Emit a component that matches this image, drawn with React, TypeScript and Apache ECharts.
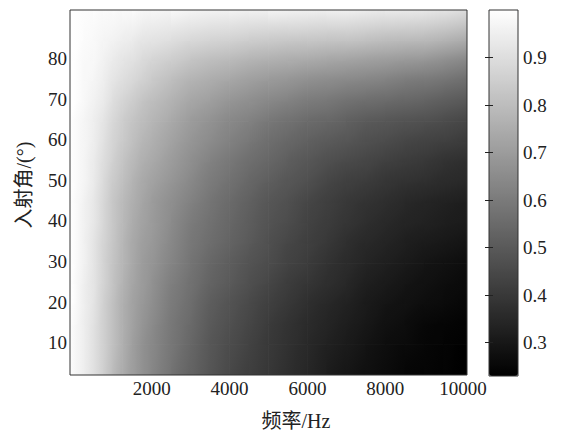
import React, { useEffect, useRef } from "react";
import * as echarts from "echarts";

// frequency (Hz) grid nodes and incidence angle (deg) grid nodes
const freqs = [0, 250, 500, 750, 1000, 1250, 1500, 1750, 2000, 2500, 3000, 3500, 4000, 4500, 5000, 5500, 6000, 6500, 7000, 7500, 8000, 8500, 9000, 9500, 10000];
const angles = [4.5, 9.5, 14.5, 19.5, 24.5, 29.5, 34.5, 39.5, 44.5, 49.5, 54.5, 59.5, 64.5, 69.5, 74.5, 79.5, 84.5, 89.5];

// values per angle row
const r04 = [0.98, 0.95, 0.91, 0.86, 0.80, 0.75, 0.71, 0.67, 0.64, 0.58, 0.53, 0.49, 0.45, 0.42, 0.40, 0.37, 0.35, 0.32, 0.30, 0.28, 0.27, 0.25, 0.245, 0.24, 0.23];
const r09 = [0.98, 0.95, 0.91, 0.86, 0.81, 0.76, 0.71, 0.67, 0.64, 0.59, 0.54, 0.49, 0.46, 0.43, 0.40, 0.38, 0.35, 0.33, 0.31, 0.29, 0.27, 0.26, 0.25, 0.24, 0.233];
const r14 = [0.98, 0.95, 0.91, 0.86, 0.81, 0.76, 0.72, 0.68, 0.65, 0.59, 0.55, 0.50, 0.47, 0.44, 0.41, 0.38, 0.36, 0.34, 0.32, 0.30, 0.28, 0.27, 0.25, 0.245, 0.24];
const r19 = [0.99, 0.95, 0.92, 0.86, 0.81, 0.76, 0.72, 0.69, 0.66, 0.60, 0.56, 0.51, 0.48, 0.45, 0.42, 0.40, 0.37, 0.35, 0.33, 0.31, 0.29, 0.28, 0.27, 0.26, 0.25];
const r24 = [0.99, 0.95, 0.92, 0.87, 0.82, 0.77, 0.73, 0.70, 0.67, 0.61, 0.57, 0.53, 0.50, 0.47, 0.44, 0.41, 0.39, 0.37, 0.35, 0.32, 0.31, 0.29, 0.28, 0.27, 0.26];
const r29 = [0.99, 0.96, 0.92, 0.87, 0.82, 0.78, 0.74, 0.70, 0.68, 0.63, 0.58, 0.54, 0.51, 0.48, 0.46, 0.43, 0.41, 0.38, 0.36, 0.34, 0.32, 0.31, 0.29, 0.28, 0.27];
const r34 = [0.99, 0.96, 0.92, 0.87, 0.83, 0.78, 0.74, 0.71, 0.69, 0.64, 0.59, 0.56, 0.53, 0.50, 0.47, 0.44, 0.42, 0.40, 0.37, 0.35, 0.34, 0.32, 0.31, 0.30, 0.29];
const r39 = [0.99, 0.96, 0.93, 0.88, 0.83, 0.79, 0.75, 0.72, 0.70, 0.65, 0.60, 0.57, 0.54, 0.51, 0.48, 0.46, 0.43, 0.41, 0.39, 0.37, 0.35, 0.34, 0.33, 0.32, 0.31];
const r44 = [0.99, 0.96, 0.93, 0.88, 0.83, 0.79, 0.76, 0.73, 0.70, 0.66, 0.62, 0.58, 0.55, 0.52, 0.49, 0.47, 0.44, 0.42, 0.40, 0.38, 0.37, 0.35, 0.34, 0.33, 0.32];
const r49 = [0.99, 0.97, 0.94, 0.89, 0.84, 0.81, 0.77, 0.74, 0.72, 0.68, 0.64, 0.60, 0.57, 0.54, 0.51, 0.49, 0.47, 0.44, 0.42, 0.41, 0.39, 0.38, 0.37, 0.36, 0.35];
const r54 = [0.99, 0.97, 0.94, 0.90, 0.86, 0.82, 0.79, 0.76, 0.74, 0.70, 0.66, 0.62, 0.59, 0.56, 0.54, 0.51, 0.49, 0.47, 0.45, 0.44, 0.42, 0.41, 0.40, 0.38, 0.37];
const r59 = [0.99, 0.97, 0.95, 0.91, 0.87, 0.84, 0.81, 0.78, 0.76, 0.72, 0.68, 0.65, 0.62, 0.59, 0.56, 0.54, 0.52, 0.50, 0.49, 0.47, 0.46, 0.44, 0.43, 0.42, 0.41];
const r64 = [0.99, 0.97, 0.95, 0.92, 0.88, 0.85, 0.82, 0.80, 0.78, 0.74, 0.70, 0.67, 0.64, 0.62, 0.59, 0.57, 0.55, 0.54, 0.52, 0.50, 0.49, 0.48, 0.47, 0.46, 0.44];
const r69 = [1.0, 0.98, 0.96, 0.94, 0.90, 0.87, 0.85, 0.82, 0.80, 0.77, 0.73, 0.71, 0.68, 0.66, 0.64, 0.62, 0.60, 0.59, 0.57, 0.56, 0.55, 0.54, 0.53, 0.51, 0.50];
const r74 = [1.0, 0.98, 0.97, 0.95, 0.92, 0.90, 0.88, 0.86, 0.84, 0.80, 0.77, 0.75, 0.73, 0.71, 0.69, 0.68, 0.66, 0.65, 0.64, 0.63, 0.62, 0.60, 0.59, 0.58, 0.56];
const r79 = [1.0, 0.98, 0.98, 0.96, 0.94, 0.92, 0.91, 0.89, 0.87, 0.85, 0.82, 0.80, 0.79, 0.77, 0.76, 0.75, 0.74, 0.73, 0.72, 0.71, 0.70, 0.69, 0.68, 0.66, 0.64];
const r84 = [1.0, 0.99, 0.98, 0.97, 0.96, 0.95, 0.94, 0.92, 0.92, 0.90, 0.88, 0.87, 0.86, 0.85, 0.84, 0.83, 0.83, 0.82, 0.82, 0.81, 0.80, 0.79, 0.79, 0.77, 0.75];
const r89 = [1.0, 0.99, 0.99, 0.98, 0.98, 0.97, 0.97, 0.96, 0.95, 0.95, 0.94, 0.93, 0.93, 0.92, 0.92, 0.92, 0.91, 0.91, 0.91, 0.90, 0.89, 0.89, 0.88, 0.87, 0.85];
const rows = [r04, r09, r14, r19, r24, r29, r34, r39, r44, r49, r54, r59, r64, r69, r74, r79, r84, r89];

const xTicks = [2000, 4000, 6000, 8000, 10000];
const yTicks = [10, 20, 30, 40, 50, 60, 70, 80];
const cbTicks = [0.3, 0.4, 0.5, 0.6, 0.7, 0.8, 0.9];
const vMin = 0.23;
const vMax = 1.0;
const X_MIN = -100;
const X_MAX = 10100;
const Y_MIN = 2;
const Y_MAX = 92;

const SERIF = "Liberation Serif, Noto Sans CJK SC, serif";
const TXT = "#222";

function gray(v: number): string {
  const t = Math.max(0, Math.min(1, (v - vMin) / (vMax - vMin)));
  const g = Math.round(t * 255);
  return `rgb(${g},${g},${g})`;
}

export default function App() {
  const ref = useRef<HTMLDivElement>(null);
  useEffect(() => {
    if (!ref.current) return;
    const chart = echarts.init(ref.current, undefined, { renderer: "svg" });
    const nf = freqs.length;
    const na = angles.length;
    const data: number[][] = [];
    for (let j = 0; j < na - 1; j++) {
      for (let i = 0; i < nf - 1; i++) {
        const m = (rows[j][i] + rows[j][i + 1] + rows[j + 1][i] + rows[j + 1][i + 1]) / 4;
        data.push([(freqs[i] + freqs[i + 1]) / 2, (angles[j] + angles[j + 1]) / 2, m, i, j]);
      }
    }
    const renderItem = (params: any, api: any) => {
      const i = api.value(3);
      const j = api.value(4);
      const xl = i === 0 ? X_MIN : freqs[i];
      const xr = i === nf - 2 ? X_MAX : freqs[i + 1];
      const yb = j === 0 ? Y_MIN : angles[j];
      const yt = j === na - 2 ? Y_MAX : angles[j + 1];
      const n00 = api.coord([freqs[i], angles[j]]);
      const n11 = api.coord([freqs[i + 1], angles[j + 1]]);
      const W = n11[0] - n00[0];
      const H = n00[1] - n11[1];
      const a = rows[j][i], b = rows[j][i + 1], c = rows[j + 1][i], d = rows[j + 1][i + 1];
      const m = (a + b + c + d) / 4;
      const gx = (b - a + (d - c)) / 2;
      const gy = (c - a + (d - b)) / 2;
      const cx = (n00[0] + n11[0]) / 2;
      const cy = (n00[1] + n11[1]) / 2;
      const dvx = gx / W;
      const dvy = -gy / H;
      const r0 = api.coord([xl, yt]);
      const r1 = api.coord([xr, yb]);
      const rect = { x: r0[0] - 0.35, y: r0[1] - 0.35, width: r1[0] - r0[0] + 0.7, height: r1[1] - r0[1] + 0.7 };
      const L = Math.hypot(dvx, dvy);
      let fill: any;
      if (L < 1e-9) {
        fill = gray(m);
      } else {
        const ux = dvx / L, uy = dvy / L;
        const cs = [[rect.x, rect.y], [rect.x + rect.width, rect.y], [rect.x, rect.y + rect.height], [rect.x + rect.width, rect.y + rect.height]];
        let pmin = Infinity, pmax = -Infinity;
        cs.forEach(([px, py]) => {
          const p = (px - cx) * ux + (py - cy) * uy;
          if (p < pmin) pmin = p;
          if (p > pmax) pmax = p;
        });
        const stops = [0, 0.25, 0.5, 0.75, 1].map((o) => ({ offset: o, color: gray(m + L * (pmin + (pmax - pmin) * o)) }));
        fill = {
          type: "linear", global: true,
          x: cx + pmin * ux, y: cy + pmin * uy, x2: cx + pmax * ux, y2: cy + pmax * uy,
          colorStops: stops,
        };
      }
      return { type: "rect", shape: rect, style: { fill } };
    };
    chart.setOption({
      animation: false,
      grid: [
        { left: 70, top: 10, width: 397, height: 365, show: true, borderColor: "#333", borderWidth: 1, backgroundColor: "transparent", z: 10 },
        { left: 489, top: 10, width: 29, height: 366, show: true, borderColor: "#333", borderWidth: 1, backgroundColor: "transparent", z: 10 },
      ],
      xAxis: [
        {
          type: "value", gridIndex: 0, min: X_MIN, max: X_MAX,
          axisLine: { show: false }, splitLine: { show: false },
          axisTick: { show: false },
          axisLabel: { customValues: xTicks, formatter: (v: number) => String(v), color: TXT, fontFamily: SERIF, fontSize: 19, margin: 4 },
        },
        { type: "value", gridIndex: 1, show: false, min: 0, max: 1 },
      ],
      yAxis: [
        {
          type: "value", gridIndex: 0, min: Y_MIN, max: Y_MAX,
          axisLine: { show: false }, splitLine: { show: false },
          axisTick: { show: false },
          axisLabel: { customValues: yTicks, formatter: (v: number) => String(v), color: TXT, fontFamily: SERIF, fontSize: 19, margin: 3 },
        },
        {
          type: "value", gridIndex: 1, min: vMin, max: vMax, position: "right", z: 10,
          axisLine: { show: false }, splitLine: { show: false },
          axisTick: { show: true, inside: true, length: 4, customValues: cbTicks, lineStyle: { color: "#222" } },
          axisLabel: { customValues: cbTicks, formatter: (v: number) => v.toFixed(1), color: TXT, fontFamily: SERIF, fontSize: 19, margin: 5 },
        },
        {
          type: "value", gridIndex: 1, min: vMin, max: vMax, position: "left", z: 10,
          axisLine: { show: false }, splitLine: { show: false },
          axisTick: { show: true, inside: true, length: 4, customValues: cbTicks, lineStyle: { color: "#222" } },
          axisLabel: { show: false },
        },
      ],
      visualMap: {
        type: "continuous", min: vMin, max: vMax, dimension: 2, seriesIndex: 0,
        inRange: { color: ["#000000", "#ffffff"] },
        show: true, calculable: false, hoverLink: false, orient: "vertical",
        left: 489, top: 10, itemWidth: 29, itemHeight: 366, padding: 0,
      },
      series: [
        {
          type: "custom", xAxisIndex: 0, yAxisIndex: 0, clip: true,
          encode: { x: 0, y: 1 },
          data,
          renderItem,
        },
      ],
      graphic: [
        {
          type: "text", x: 24, y: 185, rotation: Math.PI / 2,
          style: { text: "入射角/(°)", fontFamily: SERIF, fontSize: 20, fill: TXT, textAlign: "center", textVerticalAlign: "middle" },
        },
        {
          type: "text", x: 296, y: 421,
          style: { text: "频率/Hz", fontFamily: SERIF, fontSize: 20, fill: TXT, textAlign: "center", textVerticalAlign: "middle" },
        },
      ],
    });
    return () => chart.dispose();
  }, []);
  return <div ref={ref} style={{ width: 564, height: 432, position: "absolute", left: 0, top: 0 }} />;
}
